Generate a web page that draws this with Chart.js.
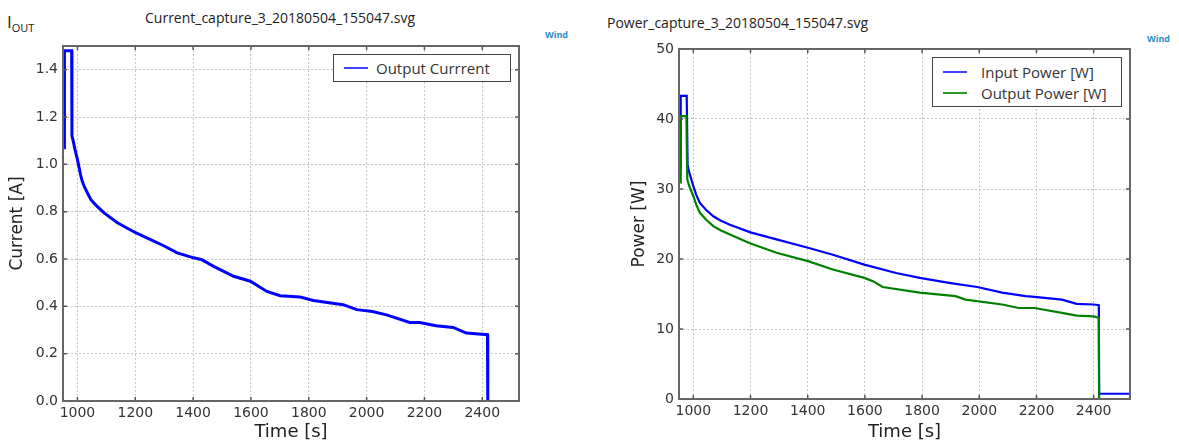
<!DOCTYPE html>
<html>
<head>
    <script src="https://cdn.jsdelivr.net/npm/chart.js"></script>
    <style>
        body { margin: 0; background: white; width: 1179px; height: 446px; overflow: hidden; position: relative; font-family: "DejaVu Sans", sans-serif; }
        canvas { position: absolute; top: 0; }
        #leftChart { left: 0; }
        #rightChart { left: 590px; }
        .file-title { position: absolute; font-family: "Open Sans", sans-serif; font-size: 14px; color: #222; white-space: nowrap; }
        .iout { position: absolute; left: 7px; top: 10px; font-family: "Open Sans", sans-serif; font-size: 17px; color: #222; }
        .iout sub { font-size: 11px; vertical-align: -4px; }
        .wind { position: absolute; font-family: "Open Sans", sans-serif; font-size: 9px; font-weight: bold; color: #2a8fc8; }
        .legend { position: absolute; background: white; border: 1.5px solid #444; box-sizing: border-box; }
        .legend-item { position: absolute; left: 0; height: 20px; }
        .legend-line { position: absolute; left: 10px; width: 24px; height: 2px; top: 9px; }
        .legend-label { position: absolute; white-space: nowrap; font-family: "Open Sans", sans-serif; font-size: 15px; color: #333; top: 0; line-height: 20px; }
    </style>
</head>
<body>
    <div class="iout">I<sub>OUT</sub></div>
    <div class="file-title" style="left:145px; top:8px;">Current_capture_3_20180504_155047.svg</div>
    <div class="file-title" style="left:607px; top:13px;">Power_capture_3_20180504_155047.svg</div>
    <div class="wind" style="left:545px; top:28px;">Wind</div>
    <div class="wind" style="left:1147px; top:32px;">Wind</div>

    <canvas id="leftChart" width="590" height="446"></canvas>
    <canvas id="rightChart" width="589" height="446"></canvas>

    <div class="legend" style="left:333px; top:54px; width:178px; height:28px;">
        <div class="legend-item" style="top:3px;">
            <div class="legend-line" style="background:#4040ff;"></div>
            <span class="legend-label" style="left:42px;">Output Currrent</span>
        </div>
    </div>
    <div class="legend" style="left:932px; top:57px; width:190px; height:50px;">
        <div class="legend-item" style="top:4px;">
            <div class="legend-line" style="background:#4040ff;"></div>
            <span class="legend-label" style="left:48px;">Input Power [W]</span>
        </div>
        <div class="legend-item" style="top:25px;">
            <div class="legend-line" style="background:#2a9a2a;"></div>
            <span class="legend-label" style="left:48px;">Output Power [W]</span>
        </div>
    </div>

    <script>
        // time axis ticks shared by both plots
        const timeTicks = [1000, 1200, 1400, 1600, 1800, 2000, 2200, 2400];
        const currentTicks = [0, 0.2, 0.4, 0.6, 0.8, 1.0, 1.2, 1.4];
        const powerTicks = [0, 10, 20, 30, 40, 50];

        // output current [A]
        const currentTime = [954, 955, 980, 981, 985, 992, 1000, 1005, 1011, 1016, 1023, 1035, 1046, 1058, 1070, 1092, 1138, 1201, 1253, 1300, 1345, 1402, 1430, 1471, 1540, 1598, 1655, 1701, 1770, 1816, 1870, 1919, 1966, 2020, 2069, 2149, 2184, 2240, 2299, 2345, 2418, 2419];
        const currentValue = [1.07, 1.48, 1.48, 1.12, 1.10, 1.06, 1.02, 0.99, 0.955, 0.93, 0.908, 0.878, 0.852, 0.835, 0.82, 0.795, 0.753, 0.711, 0.682, 0.655, 0.626, 0.605, 0.597, 0.569, 0.527, 0.506, 0.463, 0.445, 0.439, 0.425, 0.415, 0.407, 0.386, 0.378, 0.364, 0.332, 0.332, 0.318, 0.311, 0.287, 0.28, 0];

        // input power [W]
        const inputTime = [955, 956, 977, 980, 985, 990, 1000, 1010, 1023, 1045, 1070, 1095, 1128, 1200, 1291, 1401, 1488, 1598, 1709, 1792, 1894, 1993, 2080, 2162, 2193, 2289, 2341, 2400, 2418, 2419, 2527];
        const inputPower = [33, 43.3, 43.3, 33.5, 32.5, 31.8, 30.4, 29.2, 28.0, 27.0, 26.1, 25.5, 24.9, 23.8, 22.8, 21.6, 20.6, 19.2, 18.0, 17.3, 16.6, 16.0, 15.2, 14.7, 14.6, 14.2, 13.6, 13.5, 13.4, 0.75, 0.75];

        // output power [W]
        const outputTime = [955, 956, 976, 979, 985, 990, 1000, 1010, 1023, 1045, 1070, 1095, 1128, 1200, 1291, 1401, 1488, 1598, 1630, 1662, 1792, 1917, 1952, 2080, 2138, 2193, 2289, 2341, 2400, 2418, 2419];
        const outputPower = [30.9, 40.4, 40.4, 31.4, 30.5, 30.0, 29.0, 27.8, 26.6, 25.6, 24.7, 24.1, 23.5, 22.2, 20.9, 19.7, 18.5, 17.3, 16.8, 16.0, 15.2, 14.7, 14.2, 13.5, 13.0, 13.0, 12.3, 11.9, 11.8, 11.6, 0];

        const toXY = (xs, ys) => xs.map((x, i) => ({ x: x, y: ys[i] }));

        // matplotlib-like frame with inward ticks
        const framePlugin = {
            id: 'frame',
            afterDraw(chart) {
                const { ctx, chartArea: a, scales } = chart;
                ctx.save();
                ctx.strokeStyle = '#555';
                ctx.lineWidth = 1.5;
                ctx.beginPath();
                scales.x.ticks.forEach(t => {
                    const px = scales.x.getPixelForValue(t.value);
                    ctx.moveTo(px, a.bottom); ctx.lineTo(px, a.bottom - 4);
                    ctx.moveTo(px, a.top); ctx.lineTo(px, a.top + 4);
                });
                scales.y.ticks.forEach(t => {
                    const py = scales.y.getPixelForValue(t.value);
                    ctx.moveTo(a.left, py); ctx.lineTo(a.left + 4, py);
                    ctx.moveTo(a.right, py); ctx.lineTo(a.right - 4, py);
                });
                ctx.stroke();
                ctx.lineWidth = 2;
                ctx.strokeStyle = '#666';
                ctx.strokeRect(a.left, a.top, a.right - a.left, a.bottom - a.top);
                ctx.restore();
            }
        };

        function makeOptions(cfg) {
            return {
                responsive: false,
                animation: false,
                layout: { padding: cfg.padding },
                plugins: { legend: { display: false }, tooltip: { enabled: false } },
                elements: { point: { radius: 0 }, line: { tension: 0 } },
                scales: {
                    x: {
                        type: 'linear',
                        min: 950,
                        max: 2527,
                        afterBuildTicks: s => { s.ticks = timeTicks.map(v => ({ value: v })); },
                        afterFit: s => { s.height = cfg.xHeight; },
                        grid: { color: '#c4c4c4', lineWidth: 1, drawTicks: false },
                        border: { display: false, dash: [2, 2] },
                        ticks: { color: '#333', padding: 4, maxRotation: 0, font: { family: 'DejaVu Sans', size: 14 }, callback: v => String(v) },
                        title: { display: true, text: 'Time [s]', color: '#222', padding: { top: 0, bottom: 3 }, font: { family: 'DejaVu Sans', size: 18 } }
                    },
                    y: {
                        min: cfg.yMin,
                        max: cfg.yMax,
                        afterBuildTicks: s => { s.ticks = cfg.yTicks.map(v => ({ value: v })); },
                        afterFit: s => { s.width = cfg.yWidth; },
                        grid: { color: '#c4c4c4', lineWidth: 1, drawTicks: false },
                        border: { display: false, dash: [2, 2] },
                        ticks: { color: '#333', padding: 5, font: { family: 'DejaVu Sans', size: 14 }, callback: cfg.yFormat },
                        title: { display: true, text: cfg.yTitle, color: '#222', padding: { top: cfg.yTitlePad, bottom: 0 }, font: { family: 'DejaVu Sans', size: 17 } }
                    }
                }
            };
        }

        new Chart('leftChart', {
            type: 'line',
            data: {
                datasets: [{
                    label: 'Output Currrent',
                    data: toXY(currentTime, currentValue),
                    borderColor: '#0000ff',
                    borderWidth: 3
                }]
            },
            options: makeOptions({
                padding: { left: 0, top: 46, right: 71, bottom: 0 },
                xHeight: 45, yWidth: 63, yMin: 0, yMax: 1.5, yTicks: currentTicks,
                yFormat: v => v.toFixed(1), yTitle: 'Current [A]', yTitlePad: 7
            }),
            plugins: [framePlugin]
        });

        new Chart('rightChart', {
            type: 'line',
            data: {
                datasets: [{
                    label: 'Input Power [W]',
                    data: toXY(inputTime, inputPower),
                    borderColor: '#0000ff',
                    borderWidth: 2.2,
                    order: 1
                }, {
                    label: 'Output Power [W]',
                    data: toXY(outputTime, outputPower),
                    borderColor: '#008000',
                    borderWidth: 2.2,
                    order: 0
                }]
            },
            options: makeOptions({
                padding: { left: 0, top: 49, right: 49, bottom: 0 },
                xHeight: 47, yWidth: 89, yMin: 0, yMax: 50, yTicks: powerTicks,
                yFormat: v => String(v), yTitle: 'Power [W]', yTitlePad: 39
            }),
            plugins: [framePlugin]
        });
    </script>
</body>
</html>
